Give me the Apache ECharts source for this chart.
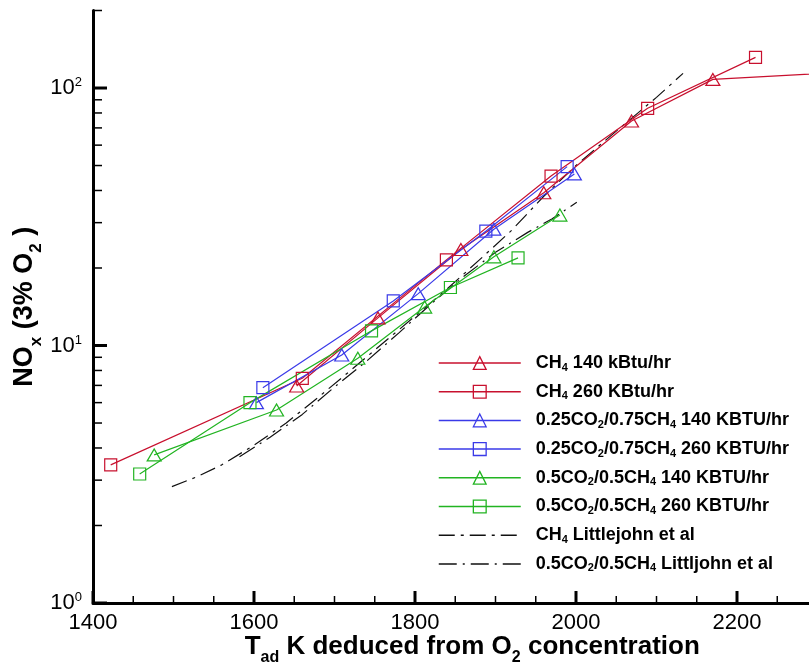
<!DOCTYPE html>
<html><head><meta charset="utf-8">
<script src="https://cdn.jsdelivr.net/npm/echarts@6/dist/echarts.min.js"></script>
<style>html,body{margin:0;padding:0;background:#fff}#c{width:809px;height:668px}</style>
</head><body><div id="c"></div>
<script>
// ---- tick values ----
const xMajorTicks = [1400, 1600, 1800, 2000, 2200];
const xMinorTicks = [1450, 1500, 1550, 1650, 1700, 1750, 1850, 1900, 1950, 2050, 2100, 2150, 2250, 2300];
const yMajorTicks = [1, 10, 100];
const yMinorTicks = [2, 3, 4, 5, 6, 7, 8, 9, 20, 30, 40, 50, 60, 70, 80, 90, 200];

// ---- series names ----
const names = [
  'CH4 140 kBtu/hr',
  'CH4 260 KBtu/hr',
  '0.25CO2/0.75CH4 140 KBTU/hr',
  '0.25CO2/0.75CH4 260 KBTU/hr',
  '0.5CO2/0.5CH4 140 KBTU/hr',
  '0.5CO2/0.5CH4 260 KBTU/hr',
  'CH4 Littlejohn et al',
  '0.5CO2/0.5CH4 Littljohn et al'
];

// ---- data (T_ad in K, NOx in ppm @3% O2) ----
const ch4_140_T   = [1653, 1754, 1857, 1960, 2069, 2170, 2370];
const ch4_140_NOx = [6.96, 12.8, 23.6, 39.2, 74.5, 108, 117];
const ch4_260_T   = [1422, 1660, 1839, 1969, 2089, 2223];
const ch4_260_NOx = [3.44, 7.46, 21.5, 45.5, 83.4, 131.5];
const co25_140_T   = [1603, 1709, 1804, 1898, 1998];
const co25_140_NOx = [6.0, 9.19, 15.9, 28.3, 46.4];
const co25_260_T   = [1611, 1773, 1888, 1989];
const co25_260_NOx = [6.86, 14.9, 27.8, 49.5];
const co50_140_T   = [1476, 1628, 1729, 1812, 1898, 1980];
const co50_140_NOx = [3.76, 5.62, 8.92, 14.1, 22.1, 32.1];
const co50_260_T   = [1458, 1595, 1746, 1844, 1928];
const co50_260_NOx = [3.17, 6.0, 11.4, 16.8, 21.9];
const lj_ch4_T   = [1498, 1530, 1560, 1600, 1640, 1680, 1720, 1760, 1800, 1840, 1880, 1920, 1960, 2000, 2050, 2100, 2133];
const lj_ch4_NOx = [2.83, 3.1, 3.44, 4.1, 5.0, 6.3, 8.0, 10.2, 13.0, 16.6, 21.5, 28, 38, 50, 68, 92, 114];
const lj_co50_T   = [1582, 1620, 1660, 1700, 1740, 1780, 1820, 1860, 1900, 1940, 1970, 2001];
const lj_co50_NOx = [3.7, 4.4, 5.4, 6.9, 8.7, 11.2, 14.5, 18.5, 23, 27.5, 31, 36];

const X_MIN = 1400, X_MAX = 2300, Y_MIN = 1, Y_MAX = 200;
const FONT = '"Liberation Sans", Arial, Helvetica, sans-serif';
const RED = '#c8102e', BLUE = '#3a3ae8', GREEN = '#22b422', BLACK = '#111111';
const DASH_CH4 = [16, 6, 3, 6], DASH_CO50 = [18, 6, 2, 6];

function pairs(xs, ys) { return xs.map((x, i) => [x, ys[i]]); }
function markerSeries(name, xs, ys, color, sym) {
  return {
    name, type: 'line', data: pairs(xs, ys), color,
    symbol: sym, symbolSize: sym === 'triangle' ? [14, 12] : 12, showSymbol: true,
    lineStyle: { color, width: 1.2 },
    itemStyle: { color: 'rgba(0,0,0,0)', borderColor: color, borderWidth: 1.2 },
    emphasis: { disabled: true }, clip: true, z: 3
  };
}
function ljSeries(name, xs, ys, dash) {
  return {
    name, type: 'line', data: pairs(xs, ys), color: BLACK,
    symbol: 'rect', showSymbol: false,
    lineStyle: { color: BLACK, width: 1.2, type: dash },
    itemStyle: { color: 'rgba(0,0,0,0)', borderColor: 'rgba(0,0,0,0)', borderWidth: 0 },
    emphasis: { disabled: true }, clip: true, z: 2
  };
}
function legendItem(name, color, dash) {
  return {
    name,
    itemStyle: { color: 'rgba(0,0,0,0)', borderColor: dash ? 'rgba(0,0,0,0)' : color, borderWidth: dash ? 0 : 1.3 },
    lineStyle: { color, width: 1.5, type: dash || 'solid' }
  };
}
function richName(s) {
  const parts = s.split(/((?:CH|CO)\d)/);
  return parts.filter(p => p.length).map(p => {
    const m = p.match(/^(CH|CO)(\d)$/);
    return m ? '{t|' + m[1] + '}{sub|' + m[2] + '}' : '{t|' + p + '}';
  }).join('');
}
// tick marks drawn through the axes' own scales (value, anchor, length, width)
const xTickData = xMajorTicks.map(v => [v, Y_MIN, 12, 3]).concat(xMinorTicks.map(v => [v, Y_MIN, 7, 1.5]));
const yTickData = yMajorTicks.map(v => [X_MIN, v, 14, 3]).concat(yMinorTicks.map(v => [X_MIN, v, 9, 1.5]));
function tickSeries(name, data, horizontal) {
  return {
    name, type: 'custom', data, silent: true, clip: false, z: 6, color: '#000',
    encode: { x: 0, y: 1 },
    renderItem: (params, api) => {
      const p = api.coord([api.value(0), api.value(1)]);
      const len = api.value(2), w = api.value(3);
      const shape = horizontal
        ? { x1: p[0], y1: p[1], x2: p[0] + len, y2: p[1] }
        : { x1: p[0], y1: p[1], x2: p[0], y2: p[1] - len };
      return { type: 'line', shape, style: { stroke: '#000', lineWidth: w } };
    }
  };
}

const chart = echarts.init(document.getElementById('c'), null, { renderer: 'canvas' });
const axisBase = { lineStyle: { color: '#000', width: 3 } };
chart.setOption({
  animation: false,
  backgroundColor: '#fff',
  grid: { left: 93, right: -8.5, top: 10.5, bottom: 65, containLabel: false, outerBoundsMode: 'none' },
  legend: {
    orient: 'vertical', left: 438, top: 354, padding: 0,
    itemWidth: 82, itemHeight: 16, itemGap: 9.7,
    data: [
      legendItem(names[0], RED), legendItem(names[1], RED),
      legendItem(names[2], BLUE), legendItem(names[3], BLUE),
      legendItem(names[4], GREEN), legendItem(names[5], GREEN),
      legendItem(names[6], BLACK, DASH_CH4), legendItem(names[7], BLACK, DASH_CO50)
    ],
    formatter: n => richName(n),
    textStyle: {
      fontFamily: FONT, fontSize: 18, fontWeight: 'bold', color: '#000', padding: [0, 0, 0, 10],
      rich: {
        t: { fontFamily: FONT, fontSize: 18, fontWeight: 'bold', color: '#000', lineHeight: 20 },
        sub: { fontFamily: FONT, fontSize: 11, fontWeight: 'bold', color: '#000', lineHeight: 10, verticalAlign: 'bottom' }
      }
    }
  },
  xAxis: {
    type: 'value', min: X_MIN, max: X_MAX, interval: 200,
    position: 'bottom', z: 5,
    axisLine: axisBase,
    splitLine: { show: false },
    axisTick: { show: false },
    axisLabel: { customValues: xMajorTicks, formatter: v => String(v), fontFamily: FONT, fontSize: 22, color: '#000', margin: 9 },
    name: '{t|T}{sub|ad}{t| K deduced from O}{sub|2}{t| concentration}',
    nameLocation: 'middle', nameGap: 29, nameMoveOverlap: false,
    nameTextStyle: {
      fontFamily: FONT, fontSize: 26, fontWeight: 'bold', color: '#000', padding: [0, 0, 0, 34],
      rich: {
        t: { fontFamily: FONT, fontSize: 26, fontWeight: 'bold', color: '#000', lineHeight: 30 },
        sub: { fontFamily: FONT, fontSize: 16, fontWeight: 'bold', color: '#000', lineHeight: 16, verticalAlign: 'bottom', padding: [0, 0, -4, 0] }
      }
    }
  },
  yAxis: {
    type: 'log', logBase: 10, min: Y_MIN, max: Y_MAX, position: 'left', z: 5,
    axisLine: axisBase,
    splitLine: { show: false },
    axisTick: { show: false },
    axisLabel: {
      customValues: yMajorTicks, margin: 11,
      formatter: v => '{b|10}{sup|' + Math.round(Math.log10(v)) + '}',
      rich: {
        b: { fontFamily: FONT, fontSize: 22, color: '#000', lineHeight: 24 },
        sup: { fontFamily: FONT, fontSize: 13, color: '#000', lineHeight: 13, verticalAlign: 'top' }
      }
    },
    name: '{t|NO}{sub|x}{t| (3% O}{sub|2}{t| )}',
    nameLocation: 'middle', nameRotate: 90, nameGap: 52, nameMoveOverlap: false,
    nameTextStyle: {
      fontFamily: FONT, fontSize: 27, fontWeight: 'bold', color: '#000',
      rich: {
        t: { fontFamily: FONT, fontSize: 27, fontWeight: 'bold', color: '#000', lineHeight: 32 },
        sub: { fontFamily: FONT, fontSize: 17, fontWeight: 'bold', color: '#000', lineHeight: 17, verticalAlign: 'bottom', padding: [0, 0, -4, 0] }
      }
    }
  },
  series: [
    tickSeries('xTicks', xTickData, false),
    tickSeries('yTicks', yTickData, true),
    markerSeries(names[0], ch4_140_T, ch4_140_NOx, RED, 'triangle'),
    markerSeries(names[1], ch4_260_T, ch4_260_NOx, RED, 'rect'),
    markerSeries(names[2], co25_140_T, co25_140_NOx, BLUE, 'triangle'),
    markerSeries(names[3], co25_260_T, co25_260_NOx, BLUE, 'rect'),
    markerSeries(names[4], co50_140_T, co50_140_NOx, GREEN, 'triangle'),
    markerSeries(names[5], co50_260_T, co50_260_NOx, GREEN, 'rect'),
    ljSeries(names[6], lj_ch4_T, lj_ch4_NOx, DASH_CH4),
    ljSeries(names[7], lj_co50_T, lj_co50_NOx, DASH_CO50)
  ]
});
</script></body></html>
